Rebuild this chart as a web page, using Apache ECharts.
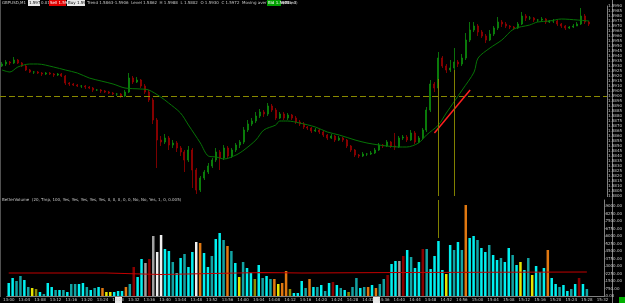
<!DOCTYPE html>
<html>
<head>
<meta charset="utf-8">
<script src="https://cdn.jsdelivr.net/npm/echarts@6/dist/echarts.min.js"></script>
<style>
  html, body { margin: 0; background: #000; }
  #chart { width: 625px; height: 303px; }
</style>
</head>
<body>
<div id="chart"></div>
<script>
  // candles: [open, close, low, high]
  const candles = [
    [1.5930,1.5932,1.5929,1.5934],[1.5932,1.5934,1.5930,1.5936],[1.5934,1.5933,1.5931,1.5935],[1.5933,1.5936,1.5932,1.5939],
    [1.5936,1.5933,1.5932,1.5937],[1.5933,1.5930,1.5929,1.5934],[1.5930,1.5926,1.5925,1.5931],[1.5926,1.5924,1.5923,1.5927],
    [1.5924,1.5924,1.5922,1.5925],[1.5924,1.5923,1.5922,1.5925],[1.5923,1.5922,1.5920,1.5924],[1.5922,1.5923,1.5921,1.5924],
    [1.5923,1.5922,1.5921,1.5924],[1.5922,1.5921,1.5919,1.5923],[1.5921,1.5922,1.5920,1.5923],[1.5922,1.5920,1.5919,1.5923],
    [1.5920,1.5913,1.5911,1.5921],[1.5913,1.5912,1.5910,1.5914],[1.5912,1.5911,1.5910,1.5913],[1.5911,1.5910,1.5909,1.5912],
    [1.5910,1.5910,1.5908,1.5911],[1.5910,1.5909,1.5907,1.5911],[1.5909,1.5908,1.5907,1.5910],[1.5908,1.5906,1.5904,1.5909],
    [1.5906,1.5906,1.5905,1.5907],[1.5906,1.5905,1.5903,1.5907],[1.5905,1.5904,1.5903,1.5906],[1.5904,1.5903,1.5902,1.5905],
    [1.5903,1.5902,1.5901,1.5904],[1.5902,1.5902,1.5900,1.5903],[1.5902,1.5900,1.5898,1.5903],[1.5900,1.5904,1.5899,1.5906],
    [1.5904,1.5918,1.5903,1.5923],[1.5918,1.5914,1.5912,1.5920],[1.5914,1.5916,1.5913,1.5919],[1.5916,1.5910,1.5908,1.5917],
    [1.5910,1.5904,1.5902,1.5912],[1.5904,1.5896,1.5894,1.5906],[1.5896,1.5876,1.5872,1.5898],[1.5876,1.5856,1.5828,1.5878],
    [1.5856,1.5854,1.5850,1.5860],[1.5854,1.5858,1.5852,1.5862],[1.5858,1.5851,1.5846,1.5860],[1.5851,1.5853,1.5848,1.5856],
    [1.5853,1.5848,1.5844,1.5855],[1.5848,1.5844,1.5840,1.5850],[1.5844,1.5836,1.5824,1.5846],[1.5836,1.5846,1.5834,1.5850],
    [1.5846,1.5826,1.5808,1.5848],[1.5826,1.5806,1.5802,1.5828],[1.5806,1.5818,1.5804,1.5820],[1.5818,1.5824,1.5816,1.5826],
    [1.5824,1.5830,1.5822,1.5833],[1.5830,1.5836,1.5828,1.5838],[1.5836,1.5844,1.5834,1.5848],[1.5844,1.5838,1.5826,1.5846],
    [1.5838,1.5848,1.5836,1.5851],[1.5848,1.5840,1.5838,1.5850],[1.5840,1.5846,1.5838,1.5848],[1.5846,1.5851,1.5844,1.5853],
    [1.5851,1.5854,1.5848,1.5856],[1.5854,1.5866,1.5852,1.5869],[1.5866,1.5872,1.5864,1.5876],[1.5872,1.5875,1.5870,1.5878],
    [1.5875,1.5880,1.5873,1.5884],[1.5880,1.5884,1.5878,1.5887],[1.5884,1.5882,1.5879,1.5886],[1.5882,1.5890,1.5880,1.5893],
    [1.5890,1.5886,1.5884,1.5892],[1.5886,1.5878,1.5876,1.5888],[1.5878,1.5882,1.5877,1.5884],[1.5882,1.5878,1.5876,1.5884],
    [1.5878,1.5881,1.5876,1.5883],[1.5881,1.5878,1.5876,1.5882],[1.5878,1.5874,1.5872,1.5880],[1.5874,1.5872,1.5870,1.5876],
    [1.5872,1.5869,1.5867,1.5874],[1.5869,1.5868,1.5866,1.5870],[1.5868,1.5865,1.5863,1.5869],[1.5865,1.5866,1.5864,1.5868],
    [1.5866,1.5864,1.5862,1.5867],[1.5864,1.5861,1.5859,1.5865],[1.5861,1.5858,1.5856,1.5862],[1.5858,1.5860,1.5857,1.5862],
    [1.5860,1.5856,1.5854,1.5861],[1.5856,1.5858,1.5855,1.5860],[1.5858,1.5856,1.5854,1.5859],[1.5856,1.5850,1.5848,1.5857],
    [1.5850,1.5846,1.5844,1.5851],[1.5846,1.5841,1.5839,1.5847],[1.5841,1.5840,1.5838,1.5842],[1.5840,1.5842,1.5839,1.5844],
    [1.5842,1.5842,1.5840,1.5843],[1.5842,1.5843,1.5841,1.5845],[1.5843,1.5846,1.5842,1.5848],[1.5846,1.5851,1.5845,1.5853],
    [1.5851,1.5850,1.5848,1.5852],[1.5850,1.5854,1.5849,1.5856],[1.5854,1.5850,1.5848,1.5855],[1.5850,1.5849,1.5846,1.5863],
    [1.5849,1.5858,1.5848,1.5860],[1.5858,1.5859,1.5856,1.5861],[1.5859,1.5856,1.5854,1.5861],[1.5856,1.5863,1.5855,1.5866],
    [1.5863,1.5854,1.5852,1.5865],[1.5854,1.5858,1.5853,1.5860],[1.5858,1.5866,1.5856,1.5868],[1.5866,1.5886,1.5864,1.5889],
    [1.5886,1.5912,1.5884,1.5916],[1.5912,1.5908,1.5904,1.5914],[1.5908,1.5938,1.5906,1.5944],[1.5938,1.5930,1.5928,1.5940],
    [1.5930,1.5926,1.5923,1.5932],[1.5926,1.5928,1.5924,1.5936],[1.5928,1.5934,1.5926,1.5948],[1.5934,1.5932,1.5929,1.5936],
    [1.5932,1.5938,1.5930,1.5942],[1.5938,1.5956,1.5936,1.5963],[1.5956,1.5966,1.5954,1.5974],[1.5966,1.5970,1.5964,1.5974],
    [1.5970,1.5964,1.5960,1.5972],[1.5964,1.5960,1.5958,1.5966],[1.5960,1.5956,1.5953,1.5962],[1.5956,1.5962,1.5955,1.5966],
    [1.5962,1.5968,1.5960,1.5970],[1.5968,1.5974,1.5966,1.5979],[1.5974,1.5972,1.5969,1.5976],[1.5972,1.5970,1.5968,1.5974],
    [1.5970,1.5969,1.5967,1.5971],[1.5969,1.5968,1.5966,1.5970],[1.5968,1.5972,1.5967,1.5974],[1.5972,1.5980,1.5971,1.5984],
    [1.5980,1.5978,1.5975,1.5982],[1.5978,1.5978,1.5976,1.5980],[1.5978,1.5976,1.5974,1.5979],[1.5976,1.5976,1.5974,1.5977],
    [1.5976,1.5977,1.5975,1.5979],[1.5977,1.5974,1.5972,1.5978],[1.5974,1.5975,1.5973,1.5976],[1.5975,1.5975,1.5973,1.5977],
    [1.5975,1.5972,1.5970,1.5976],[1.5972,1.5970,1.5968,1.5973],[1.5970,1.5968,1.5966,1.5971],[1.5968,1.5969,1.5967,1.5970],
    [1.5969,1.5970,1.5968,1.5972],[1.5970,1.5972,1.5970,1.5974],[1.5972,1.5980,1.5971,1.5988],[1.5980,1.5974,1.5972,1.5982],
    [1.5974,1.5972,1.5970,1.5975]
  ];

  // smoothed moving average, read at a few points: [bar index, price]
  const maPoints = [
    [0,1.5926],[2,1.5924],[4,1.5929],[7,1.5932],[9,1.5932],[13,1.5929],[16,1.5926],[19,1.5923],[22,1.5918],
    [25,1.5915],[28,1.5912],[31,1.5908],[35,1.5907],[37,1.5906],[40,1.5899],[42,1.5893],[45,1.5883],[47,1.5871],
    [50,1.5853],[52,1.5840],[54,1.5839],[56,1.5837],[59,1.5841],[61,1.5846],[64,1.5856],[66,1.5866],[69,1.5871],
    [70,1.5875],[72,1.5875],[75,1.5873],[79,1.5869],[82,1.5864],[85,1.5861],[89,1.5856],[92,1.5853],[95,1.5851],
    [97,1.5850],[100,1.5849],[102,1.5849],[105,1.5853],[107,1.5861],[110,1.5871],[112,1.5883],[116,1.5906],
    [119,1.5924],[120,1.5938],[123,1.5948],[126,1.5956],[129,1.5967],[133,1.5971],[135,1.5974],[138,1.5975],
    [141,1.5977],[145,1.5976],[148,1.5975]
  ];

  // volume and its BetterVolume class: c/t normal, y low, o/l mid, w climax, g churn, r climax down
  const volume = [
    1300,1800,1500,2000,1600,900,800,700,400,200,1300,900,600,600,600,400,1200,1200,1200,1300,
    900,600,800,900,800,400,400,400,500,500,900,1200,2900,1900,3700,3300,3700,6000,4400,6100,
    4700,4500,3400,2300,3800,4200,2900,4400,5400,5300,4300,2900,4000,5700,6300,5600,5000,4500,3300,1900,
    3400,2800,2300,1700,3100,1800,2000,1700,1700,1200,1300,2500,700,300,300,1500,800,1700,900,900,
    1100,500,1300,1400,1100,800,600,400,900,1800,800,900,900,1100,800,1200,1700,2100,3200,3500,
    3500,4000,4600,3900,2800,3400,4700,4700,2700,4000,5500,2600,2200,5100,4600,5400,4600,9100,5800,6000,
    5600,4800,4400,5100,4100,3600,3800,3400,4800,4100,3100,3400,2600,3800,2100,3000,2400,2800,4600,1800,
    1200,900,1100,500,700,1200,1800,1200,700
  ];
  const volKind = [
    'c','c','t','t','c','t','y','l','c','t','c','c','t','c','t','c','t','t','c','c',
    't','c','t','c','o','y','y','c','c','c','o','t','r','c','c','g','r','g','w','w',
    'c','c','t','c','c','t','c','c','w','o','c','c','t','c','c','t','o','t','c','y',
    't','c','c','l','c','t','c','t','o','y','o','o','l','c','c','c','t','o','c','t',
    'c','t','c','r','c','t','c','l','t','t','c','t','o','c','o','t','t','r','c','c',
    'g','r','c','t','c','c','r','t','c','c','c','c','y','c','t','c','t','o','c','c',
    't','c','c','t','c','c','t','c','c','t','c','y','c','t','y','c','t','c','o','c',
    'c','t','c','c','t','c','r','c','t'
  ];

  // average volume line, stepped: [bar index, value]
  const avgVolume = [[0,2300],[25,2150],[39,2350],[65,2300],[75,2350],[100,2400],[148,2400]];

  // time labels, one every 4 bars
  const timeLabels = [
    '13:00','13:04','13:08','13:12','13:16','13:20','13:24','13:28','13:32','13:36','13:40','13:44','13:48',
    '13:52','13:56','14:00','14:04','14:08','14:12','14:16','14:20','14:24','14:28','14:32','14:36','14:40',
    '14:44','14:48','14:52','14:56','15:00','15:04','15:08','15:12','15:16','15:20','15:24','15:28','15:32'
  ];

  const lastPrice = 1.5972;
  const levelPrice = 1.5862;
  const trendFrom = [109, 1.5863];
  const trendTo = [118, 1.5906];

  const slots = 153;
  const categories = [];
  for (let i = 0; i < slots; i++) categories.push(String(i));

  const kindColor = {
    c: '#00f0f0', t: '#12a3a3', y: '#e6e600', l: '#8c8c00',
    o: '#e07810', w: '#f0f0f0', g: '#a0a0a0', r: '#8a0000'
  };

  const txt = '#c8c8c8';
  const font = 'DejaVu Sans';

  const chart = echarts.init(document.getElementById('chart'));
  const option = {
    backgroundColor: '#000',
    animation: false,
    textStyle: { fontFamily: font },
    grid: [
      { left: 0, right: 13, top: 6, height: 190 },
      { left: 0, right: 13, top: 200, height: 96 }
    ],
    xAxis: [
      {
        type: 'category', gridIndex: 0, data: categories, boundaryGap: true,
        axisLine: { show: false }, axisTick: { show: false }, axisLabel: { show: false }
      },
      {
        type: 'category', gridIndex: 1, data: categories, boundaryGap: true,
        axisLine: { show: true, lineStyle: { color: '#808080', width: 1 } },
        axisTick: { show: true, interval: 3, length: 1, lineStyle: { color: '#808080' } },
        axisLabel: {
          interval: 3, color: txt, fontSize: 4, margin: 2,
          formatter: (v, idx) => timeLabels[Math.round(idx / 4)] || ''
        }
      }
    ],
    yAxis: [
      {
        type: 'value', gridIndex: 0, position: 'right', min: 1.58, max: 1.599, interval: 0.0005,
        axisLine: { show: true, lineStyle: { color: '#808080' } },
        axisTick: { show: true, length: 1, lineStyle: { color: '#808080' } },
        splitLine: { show: false },
        axisLabel: { color: txt, fontSize: 4, margin: 1, formatter: v => v.toFixed(4) }
      },
      {
        type: 'value', gridIndex: 1, position: 'right', min: 0, max: 9600, interval: 750,
        axisLine: { show: true, lineStyle: { color: '#808080' } },
        axisTick: { show: true, length: 1, lineStyle: { color: '#808080' } },
        splitLine: { show: false },
        axisLabel: { color: txt, fontSize: 4, margin: 1, showMaxLabel: false, formatter: v => v.toFixed(2) }
      }
    ],
    series: [
      {
        name: 'GBPUSD', type: 'candlestick', xAxisIndex: 0, yAxisIndex: 0,
        data: candles, barWidth: 1.5,
        itemStyle: {
          color: '#087a08', color0: '#6a0000',
          borderColor: '#0c8c0c', borderColor0: '#9a0000', borderWidth: 0.8
        },
        markLine: {
          silent: true, symbol: 'none', animation: false,
          label: { show: false },
          data: [
            { yAxis: levelPrice, lineStyle: { color: '#8a8a00', type: [6, 3], width: 1 } },
            [
              { coord: [String(trendFrom[0]), trendFrom[1]], lineStyle: { color: '#ff2020', type: 'solid', width: 1.5 } },
              { coord: [String(trendTo[0]), trendTo[1]] }
            ],
            [
              { coord: ['110', 1.5917], lineStyle: { color: '#808000', type: 'solid', width: 1 } },
              { coord: ['110', 1.58] }
            ],
            [
              { coord: ['114', 1.5926], lineStyle: { color: '#808000', type: 'solid', width: 1 } },
              { coord: ['114', 1.58] }
            ],
            {
              yAxis: lastPrice, lineStyle: { opacity: 0 },
              label: {
                show: true, position: 'end', formatter: lastPrice.toFixed(4),
                backgroundColor: '#ffffff', color: '#000', fontSize: 4, padding: [1, 1], distance: 1
              }
            }
          ]
        }
      },
      {
        name: 'MA', type: 'line', xAxisIndex: 0, yAxisIndex: 0,
        data: maPoints, smooth: 0.3, symbol: 'none',
        lineStyle: { color: '#067306', width: 1 }
      },
      {
        name: 'Volume', type: 'bar', xAxisIndex: 1, yAxisIndex: 1,
        data: volume.map((v, i) => ({ value: v, itemStyle: { color: kindColor[volKind[i]] || kindColor.c } })),
        barWidth: 2.5,
        markLine: {
          silent: true, symbol: 'none', label: { show: false },
          data: [
            [
              { coord: ['110', 9600], lineStyle: { color: '#808000', type: 'solid', width: 1 } },
              { coord: ['110', 5800] }
            ]
          ]
        }
      },
      {
        name: 'Average', type: 'line', xAxisIndex: 1, yAxisIndex: 1,
        data: avgVolume, step: 'end', symbol: 'none',
        lineStyle: { color: '#c00000', width: 1.2 }
      }
    ],
    graphic: [
      { type: 'line', shape: { x1: 0.5, y1: 0, x2: 0.5, y2: 297 }, style: { stroke: '#505050', lineWidth: 1 } },
      { type: 'line', shape: { x1: 612.5, y1: 0, x2: 612.5, y2: 303 }, style: { stroke: '#808080', lineWidth: 1 } },
      { type: 'text', left: 2, top: 1, style: { text: 'GBPUSD,M1', fill: txt, fontSize: 4, fontFamily: font } },
      { type: 'rect', shape: { x: 28, y: 0, width: 12, height: 6 }, style: { fill: '#e8e8e8' } },
      { type: 'text', left: 29, top: 1, style: { text: '1.5972', fill: '#000', fontSize: 4, fontFamily: font } },
      { type: 'text', left: 41, top: 1, style: { text: '0.01', fill: txt, fontSize: 4, fontFamily: font } },
      { type: 'rect', shape: { x: 49, y: 0, width: 17, height: 6 }, style: { fill: '#e00000' } },
      { type: 'text', left: 50, top: 1, style: { text: 'Sell 1.5972', fill: '#fff', fontSize: 4, fontFamily: font } },
      { type: 'rect', shape: { x: 67, y: 0, width: 18, height: 6 }, style: { fill: '#e8e8e8' } },
      { type: 'text', left: 68, top: 1, style: { text: 'Buy 1.5974', fill: '#000', fontSize: 4, fontFamily: font } },
      { type: 'text', left: 87, top: 1, style: { text: 'Trend 1.5863-1.5906  Level 1.5862  H 1.5988  L 1.5802  O 1.5930  C 1.5972  Moving average Smoothed', fill: txt, fontSize: 4, fontFamily: font } },
      { type: 'rect', shape: { x: 267, y: 0, width: 14, height: 6 }, style: { fill: '#00a000' } },
      { type: 'text', left: 268, top: 1, style: { text: 'Bid 1.5971', fill: '#fff', fontSize: 4, fontFamily: font } },
      { type: 'text', left: 283, top: 1, style: { text: '(Bid, 3)', fill: txt, fontSize: 4, fontFamily: font } },
      { type: 'text', left: 2, top: 198, style: { text: 'BetterVolume  (20, Tmp, 100, Yes, Yes, Yes, Yes, Yes, 0, 0, 0, 0, 0, No, No, Yes, 1, 0, 0.005)', fill: txt, fontSize: 4, fontFamily: font } },
      { type: 'rect', shape: { x: 115, y: 297, width: 7, height: 6 }, style: { fill: '#e8e8e8' } },
      { type: 'rect', shape: { x: 373, y: 297, width: 7, height: 6 }, style: { fill: '#e8e8e8' } },
      { type: 'rect', shape: { x: 619, y: 297, width: 6, height: 6 }, style: { fill: '#00b000' } }
    ]
  };
  chart.setOption(option);
</script>
</body>
</html>
